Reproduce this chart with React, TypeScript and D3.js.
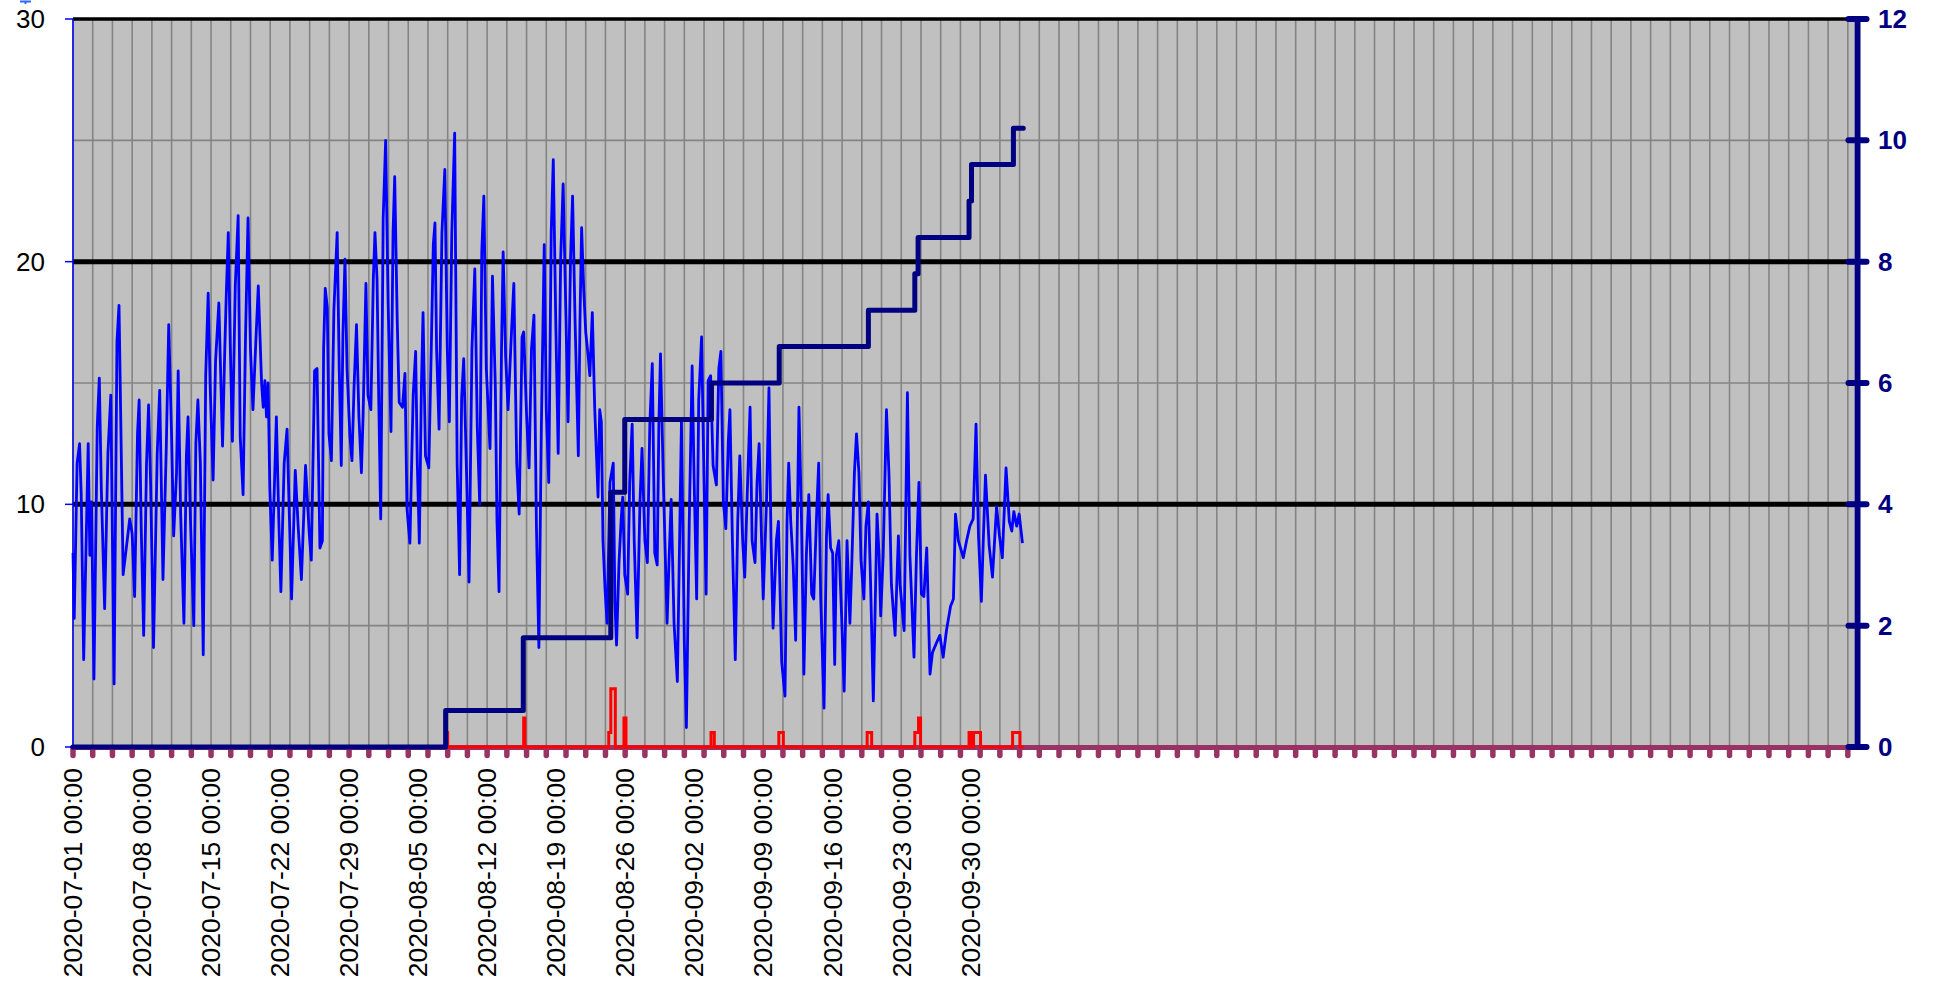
import React from 'react';
import * as d3 from 'd3';

const W = 1937;
const H = 984;
const plot = { left: 73, right: 1854, top: 19, bottom: 747 };
const AXIS_HOURS = 4335; // hourly categories on the x axis

const xLabels = [
  '2020-07-01 00:00', '2020-07-08 00:00', '2020-07-15 00:00', '2020-07-22 00:00',
  '2020-07-29 00:00', '2020-08-05 00:00', '2020-08-12 00:00', '2020-08-19 00:00',
  '2020-08-26 00:00', '2020-09-02 00:00', '2020-09-09 00:00', '2020-09-16 00:00',
  '2020-09-23 00:00', '2020-09-30 00:00',
];
const leftTicks = [0, 10, 20, 30];
const rightTicks = [0, 2, 4, 6, 8, 10, 12];

// [hour since 2020-07-01 00:00, temperature]
const temperature: [number, number][] = [
  [0, 8.0], [3, 5.3], [10, 11.7], [16, 12.5], [20, 10.4], [26, 3.6], [37, 12.5], [41, 7.9], [45, 10.1], [51, 2.8],
  [59, 13.2], [64, 15.2], [69, 10.6], [77, 5.7], [85, 12.1], [92, 14.5], [100, 2.6], [107, 16.7], [112, 18.2], [122, 7.1],
  [134, 8.8], [138, 9.4], [144, 8.8], [150, 6.2], [157, 12.9], [161, 14.3], [166, 9.1], [172, 4.6], [179, 11.7], [184, 14.1],
  [189, 10.8], [196, 4.1], [205, 12.1], [211, 14.7], [219, 6.9], [227, 12.3], [233, 17.4], [240, 12.8], [245, 8.7], [252, 11.3],
  [256, 15.5], [262, 9.6], [270, 5.1], [276, 12.0], [280, 13.6], [286, 9.3], [294, 5.0], [299, 12.5], [304, 14.3], [310, 11.7],
  [317, 3.8], [323, 15.3], [329, 18.7], [334, 14.8], [341, 11.0], [347, 15.9], [355, 18.3], [364, 12.4], [369, 16.1], [373, 18.6],
  [378, 21.2], [383, 16.4], [388, 12.6], [395, 19.0], [402, 21.9], [407, 12.8], [414, 10.4], [420, 17.0], [426, 21.8], [432, 16.4],
  [438, 13.9], [445, 16.7], [451, 19.0], [459, 15.0], [463, 14.0], [467, 15.1], [471, 13.6], [475, 15.0], [479, 10.7], [485, 7.7],
  [495, 13.6], [501, 9.3], [506, 6.4], [514, 11.7], [521, 13.1], [527, 9.3], [532, 6.1], [541, 11.4], [548, 9.1], [556, 6.9],
  [566, 11.6], [575, 8.8], [580, 7.7], [588, 15.5], [594, 15.6], [601, 8.2], [607, 8.5], [610, 16.4], [614, 18.9], [619, 18.1],
  [623, 12.9], [629, 11.8], [635, 18.0], [643, 21.2], [648, 15.6], [653, 11.6], [657, 17.0], [662, 20.1], [667, 15.6], [674, 12.8],
  [679, 11.8], [684, 14.8], [690, 17.4], [696, 13.6], [702, 11.3], [706, 13.6], [713, 19.1], [718, 14.5], [725, 13.9], [731, 19.3],
  [735, 21.2], [740, 19.3], [744, 14.5], [749, 9.4], [755, 21.8], [761, 25.0], [767, 18.3], [774, 13.0], [779, 21.2], [783, 23.5],
  [789, 17.7], [794, 14.2], [802, 14.0], [808, 15.4], [813, 9.8], [820, 8.4], [828, 14.5], [834, 16.3], [838, 11.7], [843, 8.4],
  [848, 14.8], [852, 17.9], [858, 12.0], [866, 11.5], [872, 16.4], [877, 20.7], [881, 21.6], [885, 16.4], [891, 13.1], [898, 21.2],
  [905, 23.8], [911, 16.4], [916, 13.4], [922, 21.2], [929, 25.3], [935, 11.7], [941, 7.1], [946, 14.4], [951, 16.0], [958, 11.2],
  [964, 6.8], [971, 16.4], [978, 19.7], [984, 13.2], [990, 10.0], [995, 20.4], [1000, 22.7], [1006, 15.6], [1015, 12.3], [1021, 19.4],
  [1028, 14.8], [1032, 9.3], [1037, 6.4], [1043, 16.4], [1047, 20.4], [1053, 16.1], [1059, 13.9], [1067, 17.0], [1073, 19.1], [1080, 11.7],
  [1086, 9.6], [1093, 16.9], [1097, 17.1], [1104, 13.7], [1110, 11.5], [1116, 16.4], [1122, 17.8], [1128, 9.1], [1134, 4.1], [1140, 13.2],
  [1147, 20.7], [1152, 13.9], [1158, 10.9], [1164, 21.2], [1169, 24.2], [1175, 17.6], [1181, 12.1], [1187, 20.1], [1193, 23.2], [1200, 17.6],
  [1205, 13.4], [1211, 20.1], [1216, 22.7], [1222, 17.6], [1230, 12.0], [1234, 17.6], [1238, 21.4], [1243, 18.9], [1248, 17.1], [1254, 16.1],
  [1258, 15.3], [1264, 17.9], [1270, 13.9], [1278, 10.3], [1282, 13.9], [1286, 13.4], [1290, 8.5], [1295, 6.5], [1300, 5.1], [1307, 10.9],
  [1315, 11.7], [1319, 6.0], [1323, 4.2], [1329, 7.6], [1334, 9.3], [1338, 10.3], [1343, 7.1], [1350, 6.3], [1355, 10.9], [1361, 13.3],
  [1366, 8.5], [1373, 4.5], [1380, 10.1], [1385, 12.3], [1392, 8.5], [1398, 7.6], [1404, 13.3], [1410, 15.8], [1416, 8.0], [1422, 7.5],
  [1426, 13.3], [1430, 16.2], [1437, 10.9], [1446, 5.1], [1451, 7.8], [1456, 10.2], [1463, 5.1], [1471, 2.7], [1481, 13.4], [1488, 4.3],
  [1493, 0.8], [1500, 9.3], [1507, 15.7], [1512, 10.9], [1518, 6.1], [1523, 14.3], [1530, 16.9], [1536, 10.9], [1541, 6.3], [1546, 15.1],
  [1552, 15.3], [1558, 11.6], [1566, 10.8], [1572, 15.6], [1577, 16.3], [1583, 10.1], [1589, 9.0], [1595, 12.6], [1599, 13.9], [1605, 8.5],
  [1612, 3.6], [1618, 9.3], [1623, 12.0], [1630, 8.5], [1635, 7.0], [1642, 10.9], [1648, 14.0], [1653, 8.5], [1660, 7.6], [1665, 10.9],
  [1670, 12.5], [1676, 8.5], [1680, 6.1], [1688, 10.1], [1694, 14.8], [1699, 8.5], [1704, 4.9], [1712, 8.5], [1717, 9.3], [1725, 3.5],
  [1733, 2.1], [1738, 9.3], [1742, 11.7], [1747, 9.3], [1753, 7.5], [1759, 4.4], [1767, 14.0], [1773, 9.5], [1779, 3.0], [1785, 7.9],
  [1791, 10.4], [1798, 6.3], [1803, 6.1], [1810, 9.6], [1815, 11.7], [1820, 6.1], [1828, 1.6], [1834, 8.7], [1838, 10.4], [1844, 8.2],
  [1849, 8.0], [1854, 3.4], [1858, 7.9], [1864, 8.5], [1871, 5.3], [1877, 2.3], [1884, 8.5], [1891, 5.1], [1895, 7.2], [1902, 11.3],
  [1907, 12.9], [1913, 11.3], [1918, 7.7], [1925, 6.1], [1930, 9.1], [1936, 10.1], [1941, 7.0], [1948, 1.9], [1957, 9.6], [1962, 7.9],
  [1966, 5.4], [1972, 7.9], [1980, 13.9], [1986, 11.3], [1992, 6.7], [2001, 4.6], [2009, 8.7], [2013, 6.7], [2023, 4.8], [2031, 14.6],
  [2037, 7.9], [2047, 3.7], [2053, 7.9], [2059, 10.9], [2065, 6.3], [2071, 6.2], [2078, 8.2], [2086, 3.0], [2092, 3.9], [2102, 4.3],
  [2110, 4.6], [2118, 3.7], [2126, 4.8], [2136, 5.8], [2143, 6.1], [2148, 9.6], [2155, 8.5], [2167, 7.8], [2175, 8.5], [2183, 9.1],
  [2191, 9.4], [2198, 13.3], [2204, 8.7], [2211, 6.0], [2216, 8.7], [2221, 11.2], [2230, 8.3], [2238, 7.0], [2248, 9.9], [2255, 8.7],
  [2262, 7.8], [2271, 11.5], [2279, 9.3], [2285, 8.9], [2290, 9.7], [2297, 9.1], [2303, 9.6], [2311, 8.4],
];

// rain per interval, step-after [hour, mm]
const rain: [number, number][] = [
  [0, 0], [910, 0.6], [912, 0], [1097, 1.2], [1100, 0], [1304, 0.6], [1309, 2.4], [1320, 0],
  [1341, 1.2], [1346, 0], [1553, 0.6], [1561, 0], [1718, 0.6], [1729, 0], [1933, 0.6], [1944, 0],
  [2049, 0.6], [2058, 1.2], [2063, 0], [2181, 0.6], [2188, 0], [2192, 0.6], [2209, 0],
  [2287, 0.6], [2305, 0], [2313, 0],
];

// cumulative rain, step-after [hour, mm] (right axis)
const cumRain: [number, number][] = [
  [0, 0], [907, 0.6], [1096, 1.8], [1309, 4.2], [1343, 5.4], [1554, 6.0], [1719, 6.6],
  [1936, 7.2], [2049, 7.8], [2057, 8.4], [2181, 9.0], [2187, 9.6], [2289, 10.2], [2313, 10.2],
];

const FONT = '"Liberation Sans", Arial, sans-serif';

export default function App() {
  const x = d3.scaleLinear().domain([0, AXIS_HOURS]).range([plot.left, plot.right]);
  const yL = d3.scaleLinear().domain([0, 30]).range([plot.bottom, plot.top]);
  const yR = d3.scaleLinear().domain([0, 12]).range([plot.bottom, plot.top]);

  const gridHours = d3.range(0, AXIS_HOURS, 48);

  const tempLine = d3.line<[number, number]>()
    .x(d => x(d[0]))
    .y(d => yL(d[1]));
  const rainLine = d3.line<[number, number]>()
    .x(d => x(d[0]))
    .y(d => yL(d[1]))
    .curve(d3.curveStepAfter);
  const cumLine = d3.line<[number, number]>()
    .x(d => x(d[0]))
    .y(d => yR(d[1]))
    .curve(d3.curveStepAfter);

  const axisY = plot.bottom + 0.5;
  const rightX = plot.right + 3.5;

  return (
    <svg width={W} height={H} style={{ position: 'absolute', left: 0, top: 0 }}>
      <rect x={0} y={0} width={W} height={H} fill="#ffffff" />
      <rect x={plot.left} y={plot.top} width={plot.right - plot.left} height={plot.bottom - plot.top} fill="#c0c0c0" />

      {/* vertical grid */}
      {gridHours.map(h => (
        <line key={'v' + h} x1={x(h)} x2={x(h)} y1={plot.top} y2={plot.bottom} stroke="#848484" strokeWidth={1.6} />
      ))}
      {/* minor horizontal grid (secondary axis units) */}
      {rightTicks.slice(1, -1).map(v => (
        <line key={'h' + v} x1={plot.left} x2={plot.right} y1={yR(v)} y2={yR(v)} stroke="#848484" strokeWidth={1.6} />
      ))}
      {/* major horizontal grid */}
      {leftTicks.slice(1).map(v => (
        <line key={'m' + v} x1={plot.left} x2={plot.right} y1={yL(v)} y2={yL(v)} stroke="#000000" strokeWidth={v === 30 ? 3.5 : 5} />
      ))}

      {/* x axis */}
      <line x1={plot.left} x2={plot.right} y1={axisY} y2={axisY} stroke="#993366" strokeWidth={5} />
      {gridHours.map(h => (
        <line key={'t' + h} x1={x(h)} x2={x(h)} y1={axisY} y2={axisY + 8} stroke="#993366" strokeWidth={5.5} strokeLinecap="round" />
      ))}
      {xLabels.map((s, i) => (
        <text key={s} transform={`translate(${x(i * 168)},768) rotate(-90)`} textAnchor="end" dy="0.35em"
          fontFamily={FONT} fontSize={26.5} fill="#000">{s}</text>
      ))}

      {/* left axis */}
      <line x1={plot.left} x2={plot.left} y1={plot.top} y2={plot.bottom} stroke="#0000ff" strokeWidth={1.5} />
      {leftTicks.map(v => (
        <g key={'l' + v}>
          <line x1={plot.left - 8} x2={plot.left} y1={yL(v)} y2={yL(v)} stroke="#0000ff" strokeWidth={1.5} />
          <text x={45} y={yL(v)} dy="0.35em" textAnchor="end" fontFamily={FONT} fontSize={26} fill="#000">{v}</text>
        </g>
      ))}
      <path d="M20,1.5 H31 M25.5,1.5 V4" stroke="#3366ff" strokeWidth={2} fill="none" />

      {/* series */}
      <path d={rainLine(rain) || ''} fill="none" stroke="#ff0000" strokeWidth={3} />
      <path d={tempLine(temperature) || ''} fill="none" stroke="#0000ff" strokeWidth={2.8} strokeLinejoin="round" />
      <path d={cumLine(cumRain) || ''} fill="none" stroke="#000080" strokeWidth={5} strokeLinejoin="round" strokeLinecap="round" />

      {/* right axis */}
      <line x1={rightX} x2={rightX} y1={plot.top} y2={plot.bottom} stroke="#000080" strokeWidth={6} />
      {rightTicks.map(v => (
        <g key={'r' + v}>
          <line x1={rightX - 9} x2={rightX + 9} y1={yR(v)} y2={yR(v)} stroke="#000080" strokeWidth={6} strokeLinecap="round" />
          <text x={1878} y={yR(v)} dy="0.35em" fontFamily={FONT} fontSize={26} fontWeight="bold" fill="#000080">{v}</text>
        </g>
      ))}
    </svg>
  );
}
